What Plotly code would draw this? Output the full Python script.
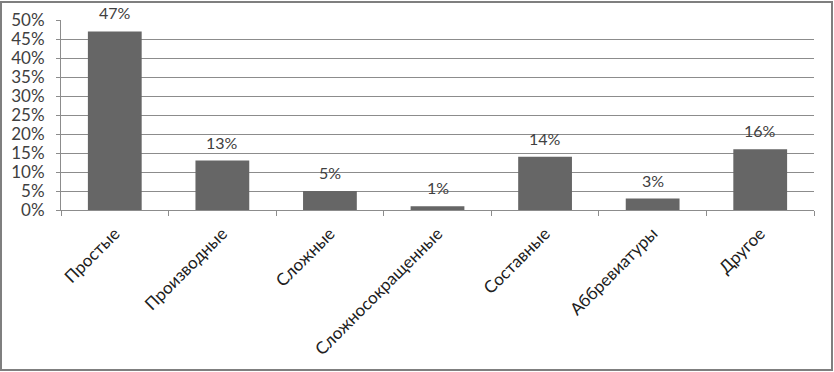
import plotly.graph_objects as go

categories = ["Простые", "Производные", "Сложные", "Сложносокращенные", "Составные", "Аббревиатуры", "Другое"]
values = [0.47, 0.13, 0.05, 0.01, 0.14, 0.03, 0.16]
labels = ["47%", "13%", "5%", "1%", "14%", "3%", "16%"]

W, H = 834, 372
ml, mr, mt, mb = 61, 20, 20, 162
pw, ph = W - ml - mr, H - mt - mb

fig = go.Figure(go.Bar(
    x=categories, y=values,
    marker=dict(color="#666666", line=dict(width=0)), width=0.5,
    cliponaxis=False, hoverinfo="skip",
))

for c, v, t in zip(categories, values, labels):
    fig.add_annotation(x=c, y=v, text=t, showarrow=False, yanchor="bottom",
                       yshift=7, font=dict(size=16, color="#404040"))

font = "Lato, 'Open Sans', sans-serif"
fig.update_layout(
    width=W, height=H, margin=dict(l=ml, r=mr, t=mt, b=mb, autoexpand=False),
    paper_bgcolor="white", plot_bgcolor="white",
    font=dict(family=font, size=16, color="#404040"),
    showlegend=False, bargap=0.5,
    xaxis=dict(tickangle=-45, showline=True, linecolor="#8c8c8c", linewidth=1,
               ticks="outside", ticklen=5, tickcolor="#8c8c8c", tickson="boundaries",
               tickfont=dict(size=17, color="#202020"), automargin=False,
               ticklabelstandoff=6),
    yaxis=dict(range=[0, 0.5], dtick=0.05, tickformat=".0%", showgrid=True,
               gridcolor="#8c8c8c", gridwidth=1, showline=True, linecolor="#8c8c8c",
               ticks="outside", ticklen=4, tickcolor="#8c8c8c", zeroline=False,
               tickfont=dict(size=17, color="#404040"), automargin=False,
               ticklabelstandoff=8),
    shapes=[dict(type="rect", xref="paper", yref="paper",
                 x0=(1 - ml) / pw, x1=(W - 2 - ml) / pw,
                 y0=-(mb - 2) / ph,
                 y1=(H - 2 - mb) / ph,
                 line=dict(color="#7f7f7f", width=2))],
)
fig.write_html("out.html", config={"displayModeBar": False},
               post_script="document.body.style.margin='0';document.body.style.padding='0';")
